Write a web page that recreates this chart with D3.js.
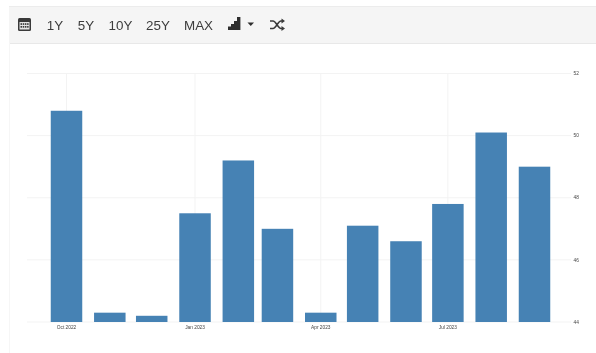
<!DOCTYPE html>
<html><head><meta charset="utf-8">
<script src="https://cdn.jsdelivr.net/npm/d3@7"></script>
<style>html,body{margin:0;padding:0;background:#fff}svg{display:block;filter:blur(0.4px)}</style>
</head><body><div id="chart"></div>
<script>
const months=["2022-10-01","2022-11-01","2022-12-01","2023-01-01","2023-02-01","2023-03-01","2023-04-01","2023-05-01","2023-06-01","2023-07-01","2023-08-01","2023-09-01"];
const values=[50.8,44.3,44.2,47.5,49.2,47.0,44.3,47.1,46.6,47.8,50.1,49.0];
const yTicks=[44,46,48,50,52];
const xTicks=[["2022-10-01","Oct 2022"],["2023-01-01","Jan 2023"],["2023-04-01","Apr 2023"],["2023-07-01","Jul 2023"]];
const ranges=["1Y","5Y","10Y","25Y","MAX"];
const rangeX=[55,86,120.5,158,198.5];

const W=596,H=353;
const svg=d3.select("#chart").append("svg").attr("width",W).attr("height",H).attr("viewBox",[0,0,W,H]);
const p=s=>new Date(s+"T00:00:00Z");
const x=d3.scaleUtc().domain([p(months[0]),p(months[11])]).range([66.5,534.5]);
const y=d3.scaleLinear().domain([44,52]).range([322,73.5]);

// toolbar
svg.append("rect").attr("x",9).attr("y",7).attr("width",587).attr("height",36).attr("fill","#f5f5f5");
svg.append("line").attr("x1",9).attr("x2",596).attr("y1",43.5).attr("y2",43.5).attr("stroke","#e8e8e8");
svg.append("line").attr("x1",9).attr("x2",596).attr("y1",6.5).attr("y2",6.5).attr("stroke","#ececec");
svg.append("line").attr("x1",9.5).attr("x2",9.5).attr("y1",43).attr("y2",353).attr("stroke","#f6f6f6");
const ink="#3a3a3a";
const cal=svg.append("g").attr("transform","translate(18,18)");
cal.append("rect").attr("width",13).attr("height",13).attr("rx",1.5).attr("fill",ink);
cal.append("rect").attr("x",1.5).attr("y",4).attr("width",10).attr("height",7.5).attr("fill","#e6e6e6");
for(let r=0;r<2;r++)for(let c=0;c<4;c++)cal.append("rect").attr("x",2.5+c*2.2).attr("y",5.2+r*2.8).attr("width",1.5).attr("height",1.7).attr("fill",ink);
svg.selectAll("text.range").data(ranges).join("text").attr("class","range")
  .attr("x",(d,i)=>rangeX[i]).attr("y",29.5).attr("text-anchor","middle")
  .attr("font-family","Liberation Sans, Arial, sans-serif").attr("font-size",13.4).attr("fill","#3c3c3c").text(d=>d);
const ic=svg.append("g").attr("fill","#2e2e2e");
[[228,3.5],[231,6],[234,9],[237,13]].forEach(([a,h])=>ic.append("rect").attr("x",a).attr("y",30-h).attr("width",3.4).attr("height",h));
ic.append("path").attr("d","M247.5 22.5h6.5l-3.25 3.4z");
svg.append("path").attr("d","M270 21h3c3 0 5 7.5 8 7.5h1.5M270 28.5h3c3 0 5-7.5 8-7.5h1.5").attr("fill","none").attr("stroke",ink).attr("stroke-width",1.6);
svg.append("path").attr("d","M281.5 18.5l3.5 2.5-3.5 2.5zM281.5 26l3.5 2.5-3.5 2.5z").attr("fill",ink);

// grid
svg.selectAll("line.h").data(yTicks).join("line").attr("class","h")
  .attr("x1",27).attr("x2",571).attr("y1",d=>y(d)).attr("y2",d=>y(d)).attr("stroke","#f3f3f3");
svg.selectAll("line.v").data(xTicks).join("line").attr("class","v")
  .attr("x1",d=>x(p(d[0]))).attr("x2",d=>x(p(d[0]))).attr("y1",73).attr("y2",322).attr("stroke","#f3f3f3");

// bars
const bw=31.5;
svg.selectAll("rect.bar").data(values).join("rect").attr("class","bar")
  .attr("x",(d,i)=>x(p(months[i]))-bw/2).attr("width",bw)
  .attr("y",d=>y(d)).attr("height",d=>y(44)-y(d)).attr("fill","#4682b4");

// labels
svg.selectAll("text.yl").data(yTicks).join("text").attr("class","yl")
  .attr("x",573.5).attr("y",d=>y(d)+1.7).attr("font-family","Liberation Sans, Arial, sans-serif")
  .attr("font-size",4.8).attr("fill","#444").text(d=>d);
svg.selectAll("text.xl").data(xTicks).join("text").attr("class","xl")
  .attr("x",d=>x(p(d[0]))).attr("y",329).attr("text-anchor","middle").attr("font-family","Liberation Sans, Arial, sans-serif")
  .attr("font-size",4.8).attr("fill","#444").text(d=>d[1]);
</script></body></html>
